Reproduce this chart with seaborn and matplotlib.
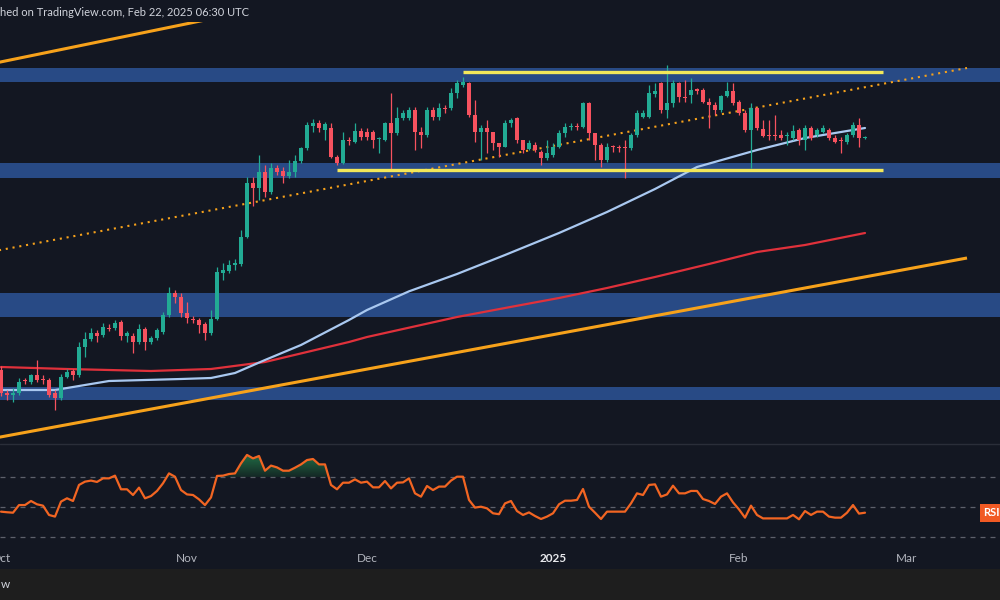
import matplotlib
matplotlib.use("Agg")
import numpy as np
import pandas as pd
import seaborn as sns
import matplotlib.pyplot as plt
import matplotlib.dates as mdates
from matplotlib.lines import Line2D
from matplotlib.patches import Rectangle
from matplotlib.colors import LinearSegmentedColormap

# daily BTC candles, prices in thousands of USD
dates = pd.date_range("2024-10-01", periods=145, freq="D")

opens = [
    62.5, 59.05, 58.75, 59.05, 61.0, 60.7, 61.75, 61.15, 61.0, 59.05,
    58.3, 61.45, 62.35, 61.75, 65.95, 67.15, 68.05, 67.75, 68.8, 68.8,
    69.7, 67.6, 67.6, 66.7, 68.65, 66.7, 67.3, 68.2, 70.75, 74.05,
    73.45, 71.05, 70.15, 70.0, 69.4, 68.05, 70.15, 77.05, 77.35, 78.25,
    78.4, 82.45, 90.55, 89.8, 92.2, 89.2, 92.8, 92.35, 91.6, 92.2,
    93.85, 95.8, 99.1, 99.55, 98.5, 98.8, 94.45, 93.55, 97.0, 96.7,
    98.35, 98.2, 98.2, 97.15, 97.0, 99.55, 98.05, 100.3, 100.3, 101.5,
    98.2, 97.75, 101.5, 100.45, 101.8, 101.8, 104.05, 105.25, 105.55, 100.75,
    98.2, 98.8, 98.2, 96.55, 95.95, 99.55, 100.3, 97.0, 95.65, 96.25,
    95.2, 94.3, 94.75, 95.95, 98.05, 98.95, 99.1, 98.95, 102.55, 98.05,
    96.25, 94.0, 96.1, 95.95, 95.95, 95.8, 97.75, 100.45, 100.45, 103.9,
    105.55, 101.5, 102.55, 105.55, 103.45, 103.75, 104.65, 104.5, 102.7, 102.25,
    101.5, 103.6, 104.35, 102.7, 101.05, 98.5, 101.8, 98.65, 97.75, 97.75,
    97.75, 97.6, 97.3, 98.5, 97.0, 98.8, 97.75, 98.2, 98.5, 97.3,
    97.0, 96.7, 97.75, 99.25, 97.3,
]
highs = [
    63.1, 59.5, 59.8, 61.3, 61.3, 61.9, 64.0, 61.75, 61.3, 59.5,
    61.9, 62.65, 62.65, 66.7, 68.2, 68.8, 68.5, 69.55, 69.4, 70.0,
    70.0, 68.35, 68.05, 69.4, 68.95, 67.6, 68.8, 71.2, 74.95, 74.5,
    74.05, 72.7, 70.6, 70.3, 69.7, 71.5, 77.95, 78.55, 79.0, 79.15,
    83.5, 91.45, 91.45, 94.75, 93.25, 93.55, 93.25, 92.95, 94.0, 94.75,
    95.95, 99.7, 100.15, 100.0, 99.7, 99.55, 94.75, 98.2, 97.45, 99.55,
    98.8, 98.8, 98.5, 97.45, 99.7, 104.05, 101.95, 101.5, 101.95, 101.95,
    98.95, 101.95, 101.95, 102.55, 102.25, 104.8, 106.0, 106.45, 105.7, 103.0,
    99.25, 100.0, 98.2, 96.55, 100.0, 100.3, 100.45, 97.0, 97.0, 96.7,
    95.5, 97.0, 96.55, 98.5, 99.55, 99.55, 99.55, 102.7, 102.7, 98.05,
    96.55, 96.55, 96.25, 96.25, 97.0, 98.05, 101.5, 101.5, 105.25, 105.55,
    105.7, 108.25, 106.0, 105.7, 106.0, 106.3, 104.8, 104.8, 103.3, 102.7,
    103.75, 105.7, 105.55, 103.0, 101.5, 102.55, 101.95, 100.0, 100.0, 100.75,
    98.5, 98.2, 99.25, 98.8, 99.25, 99.1, 98.8, 99.25, 98.8, 97.75,
    97.45, 98.05, 99.7, 100.3, 97.6,
]
lows = [
    58.6, 58.0, 57.7, 58.75, 60.4, 60.4, 60.7, 60.4, 58.45, 56.5,
    58.0, 61.3, 61.0, 61.45, 64.45, 66.85, 66.7, 67.45, 68.35, 68.5,
    67.0, 66.7, 65.05, 66.4, 65.5, 66.4, 67.0, 67.9, 70.45, 72.55,
    70.45, 69.55, 69.55, 68.05, 67.0, 67.75, 70.0, 76.0, 77.05, 77.5,
    78.1, 82.3, 87.1, 88.0, 88.45, 88.9, 91.75, 90.55, 91.3, 91.45,
    93.55, 95.5, 98.2, 98.2, 97.0, 94.3, 93.25, 93.4, 96.25, 96.55,
    97.0, 97.0, 95.8, 95.05, 96.85, 92.5, 97.75, 100.0, 100.0, 95.5,
    95.8, 97.45, 100.0, 100.0, 101.05, 101.5, 103.3, 104.95, 100.45, 96.7,
    94.0, 95.05, 95.5, 94.45, 95.95, 98.95, 96.55, 95.05, 95.5, 95.2,
    93.25, 94.0, 94.45, 95.8, 97.45, 98.5, 98.5, 98.8, 97.0, 94.0,
    92.95, 93.7, 95.2, 95.2, 91.3, 95.5, 97.45, 100.3, 100.3, 103.45,
    101.05, 100.3, 101.95, 102.7, 102.7, 102.55, 103.9, 102.55, 98.8, 100.75,
    101.2, 103.45, 102.25, 100.75, 98.2, 92.8, 98.5, 97.45, 97.0, 97.0,
    97.0, 96.25, 97.0, 96.25, 95.5, 97.0, 97.45, 98.05, 97.0, 96.55,
    95.05, 96.4, 97.45, 95.95, 97.15,
]
closes = [
    59.05, 58.75, 59.05, 60.7, 60.85, 61.75, 61.0, 61.0, 58.75, 58.3,
    61.45, 62.2, 61.75, 65.95, 67.15, 68.05, 67.6, 68.95, 68.65, 69.55,
    67.6, 68.05, 66.7, 68.65, 66.7, 67.3, 68.5, 70.75, 74.05, 73.45,
    71.05, 70.3, 70.0, 69.25, 68.05, 70.15, 77.2, 77.5, 78.25, 78.55,
    82.45, 90.55, 89.8, 92.2, 89.2, 92.8, 92.2, 91.6, 92.2, 93.85,
    95.8, 99.25, 99.55, 98.8, 99.4, 94.45, 93.55, 97.0, 96.85, 98.35,
    97.45, 97.45, 97.0, 97.3, 99.55, 98.05, 100.3, 101.05, 101.5, 98.2,
    97.75, 101.5, 100.45, 101.8, 101.65, 104.05, 105.55, 105.7, 100.75, 98.2,
    98.8, 98.2, 96.55, 95.95, 99.55, 100.0, 97.0, 95.5, 96.55, 95.5,
    94.3, 95.05, 95.95, 98.05, 98.95, 99.1, 98.95, 102.55, 98.05, 96.25,
    94.0, 95.95, 95.95, 95.8, 95.8, 97.75, 101.05, 101.05, 104.05, 104.35,
    101.5, 102.55, 105.55, 103.45, 103.3, 104.5, 104.35, 102.7, 102.25, 101.5,
    103.6, 104.35, 102.55, 101.05, 98.5, 101.8, 98.8, 97.6, 97.6, 97.6,
    97.3, 97.75, 98.35, 97.0, 98.8, 97.3, 98.5, 98.8, 97.3, 96.7,
    96.85, 97.75, 99.25, 97.3, 97.45,
]

rsi = [
    46.9, 46.5, 46.2, 51.3, 51.3, 54.0, 51.8, 50.9, 44.7, 43.6,
    53.6, 55.8, 54.0, 64.7, 66.9, 67.6, 66.7, 69.1, 69.1, 70.9,
    61.8, 61.8, 58.0, 62.9, 55.8, 57.3, 60.7, 65.8, 72.4, 70.2,
    61.3, 58.4, 58.0, 55.1, 51.3, 56.4, 70.7, 70.9, 72.0, 72.4,
    79.1, 84.7, 82.4, 84.0, 74.2, 77.6, 76.4, 74.2, 74.2, 76.2,
    78.4, 81.3, 82.0, 78.4, 78.4, 64.7, 61.8, 66.2, 66.2, 68.4,
    66.2, 66.9, 63.1, 63.1, 67.3, 62.4, 66.2, 66.4, 69.1, 59.1,
    56.9, 64.0, 61.3, 63.6, 63.6, 67.6, 70.2, 70.2, 54.7, 49.6,
    50.2, 49.1, 45.8, 45.2, 52.4, 54.0, 47.3, 44.7, 46.4, 44.0,
    42.0, 43.6, 45.8, 51.8, 54.2, 54.2, 54.7, 62.0, 50.2, 46.2,
    42.0, 46.9, 46.9, 46.9, 46.9, 52.4, 59.1, 58.0, 64.7, 65.1,
    56.9, 58.4, 64.2, 59.1, 59.1, 60.7, 60.7, 55.3, 54.0, 52.0,
    56.9, 59.1, 53.1, 48.4, 42.9, 50.9, 44.7, 42.4, 42.4, 42.4,
    42.4, 42.4, 44.7, 41.8, 47.3, 44.7, 46.9, 46.9, 43.6, 42.9,
    42.9, 46.2, 51.3, 45.6, 46.2,
]

# moving averages read at a few dates
ma100_dates = ["2024-10-01", "2024-10-10", "2024-10-19", "2024-10-31", "2024-11-05",
               "2024-11-09", "2024-11-14", "2024-11-20", "2024-11-28", "2024-12-01",
               "2024-12-08", "2024-12-16", "2024-12-24", "2025-01-02", "2025-01-10",
               "2025-01-18", "2025-01-25", "2025-02-04", "2025-02-12", "2025-02-18",
               "2025-02-22"]
ma100 = [59.5, 59.5, 60.85, 61.15, 61.3, 62.05, 64.0, 66.25, 70.0, 71.5,
         74.3, 76.9, 79.75, 83.05, 86.2, 89.65, 92.95, 95.5, 97.3, 98.2,
         98.8]
ma200_dates = ["2024-10-01", "2024-10-12", "2024-10-26", "2024-11-05", "2024-11-14",
               "2024-11-28", "2024-12-01", "2024-12-07", "2024-12-16", "2024-12-24",
               "2025-01-02", "2025-01-10", "2025-01-18", "2025-01-27", "2025-02-04",
               "2025-02-12", "2025-02-22"]
ma200 = [62.95, 62.65, 62.35, 62.65, 63.7, 66.7, 67.45, 68.65, 70.45, 71.8,
         73.3, 74.8, 76.45, 78.4, 80.2, 81.25, 83.05]

# drawings: channel, dotted trendline, range box, zones
channel_top_dates = ["2024-09-29", "2024-11-10"]
channel_top = [108.35, 116.1]
channel_bot_dates = ["2024-09-30", "2025-03-11"]
channel_bot = [52.3, 79.3]
trend_dates = ["2024-09-30", "2025-03-11"]
trend = [80.35, 107.8]
range_top_dates = ["2024-12-17", "2025-02-25"]
range_top = 107.2
range_bot_dates = ["2024-11-26", "2025-02-25"]
range_bot = 92.5
zones = [(105.7, 107.8), (91.3, 93.55), (70.45, 74.05), (58.0, 59.95)]

month_ticks = ["2024-10-01", "2024-11-01", "2024-12-01", "2025-01-01", "2025-02-01", "2025-03-01"]
month_labels = ["Oct", "Nov", "Dec", "2025", "Feb", "Mar"]

BG = "#131722"
UP = "#22ab94"
DOWN = "#f7525f"

sns.set_theme(style="dark", rc={"axes.facecolor": BG, "figure.facecolor": BG,
                                "axes.grid": False})
plt.rcParams["font.family"] = ["Lato", "DejaVu Sans"]

fig = plt.figure(figsize=(10, 6), dpi=100)
ax = fig.add_axes([0, 1 - 443 / 600, 1, 421 / 600])
ax_rsi = fig.add_axes([0, 60 / 600, 1, 95 / 600])

num = lambda d: mdates.date2num(pd.to_datetime(d))
x = mdates.date2num(dates)
x0 = x[0]
xlim = (x0 - 1 / 6, x0 + 999 / 6)

# zones
for lo, hi in zones:
    ax.axhspan(lo, hi, color="#284a85", lw=0, zorder=1)

# channel and trendline
ax.plot(num(channel_top_dates), channel_top, color="#f7a21b", lw=2.2, zorder=2,
        solid_capstyle="butt")
ax.plot(num(channel_bot_dates), channel_bot, color="#f7a21b", lw=2.2, zorder=2,
        solid_capstyle="butt")
ax.plot(num(trend_dates), trend, color="#f7a21b", lw=1.5, ls=(0, (1, 2.3)), zorder=2)

# moving averages
sns.lineplot(x=num(ma200_dates), y=ma200, ax=ax, color="#e0313b", lw=1.6, zorder=3)
sns.lineplot(x=num(ma100_dates), y=ma100, ax=ax, color="#a9c8f0", lw=1.6, zorder=3)

# candles
o = np.array(opens); h = np.array(highs); l = np.array(lows); c = np.array(closes)
cols = np.where(c >= o, UP, DOWN)
ax.vlines(x, l, h, colors=cols, lw=0.9, zorder=4)
body_lo = np.minimum(o, c)
body_h = np.maximum(np.abs(c - o), 0.18)
ax.bar(x, body_h, bottom=body_lo, width=0.7, color=cols, lw=0, zorder=4)

# range box lines
ax.plot(num(range_top_dates), [range_top] * 2, color="#f3e85a", lw=2.4, zorder=5,
        solid_capstyle="butt")
ax.plot(num(range_bot_dates), [range_bot] * 2, color="#f3e85a", lw=2.4, zorder=5,
        solid_capstyle="butt")

ax.set_xlim(*xlim)
ax.set_ylim(51.55, 114.7)
ax.set_xticks([]); ax.set_yticks([])
ax.set_xlabel(""); ax.set_ylabel("")
for s in ax.spines.values():
    s.set_visible(False)

# RSI pane with gradient fill above 70
r = np.array(rsi)
poly = ax_rsi.fill_between(x, r, 70, where=r > 70, interpolate=True,
                           color="none", lw=0)
grad = LinearSegmentedColormap.from_list("g", ["#152a26", "#25804d"])
img = ax_rsi.imshow(np.linspace(0, 1, 100).reshape(-1, 1), cmap=grad, aspect="auto",
                    origin="lower", extent=(xlim[0], xlim[1], 70, 86), zorder=1,
                    alpha=0.9)
img.set_clip_path(poly.get_paths()[0], transform=ax_rsi.transData) if len(poly.get_paths()) == 1 else None
if len(poly.get_paths()) > 1:
    from matplotlib.path import Path
    img.set_clip_path(Path.make_compound_path(*poly.get_paths()), transform=ax_rsi.transData)
for lvl in (70, 50, 30):
    ax_rsi.axhline(lvl, color="#5d606b", lw=0.9, ls=(0, (4, 4)), zorder=2)
sns.lineplot(x=x, y=r, ax=ax_rsi, color="#f26522", lw=1.6, zorder=3)
ax_rsi.set_xlim(*xlim)
ax_rsi.set_ylim(28, 91.33)
ax_rsi.set_yticks([])
ax_rsi.set_xticks(num(month_ticks))
ax_rsi.set_xticklabels(month_labels)
ax_rsi.tick_params(axis="x", length=0, pad=9, labelsize=8.5, labelcolor="#b2b5be")
for t in ax_rsi.get_xticklabels():
    if t.get_text() == "2025":
        t.set_fontweight("bold")
        t.set_color("#e8e9ed")
ax_rsi.set_xlabel(""); ax_rsi.set_ylabel("")
for s in ax_rsi.spines.values():
    s.set_visible(False)

# separator, bottom bar and labels
fig.add_artist(Line2D([0, 1], [1 - 444 / 600] * 2, color="#2a2e39", lw=1))
fig.add_artist(Rectangle((0, 0), 1, 31 / 600, transform=fig.transFigure,
                         fc="#1e1e1e", ec="none"))
fig.text(0.001, 15 / 600, "w", color="#d1d4dc", fontsize=8.5, va="center")
fig.text(0.0, 1 - 12 / 600, "hed on TradingView.com, Feb 22, 2025 06:30 UTC",
         color="#d1d4dc", fontsize=8, va="center", ha="left")
fig.text(0.983, 1 - 513 / 600, "RSI", color="white", fontsize=8, fontweight="bold",
         va="center", ha="left",
         bbox=dict(boxstyle="square,pad=0.3", fc="#f15a24", ec="none"))

fig.savefig("out.png", dpi=100, facecolor=BG)
